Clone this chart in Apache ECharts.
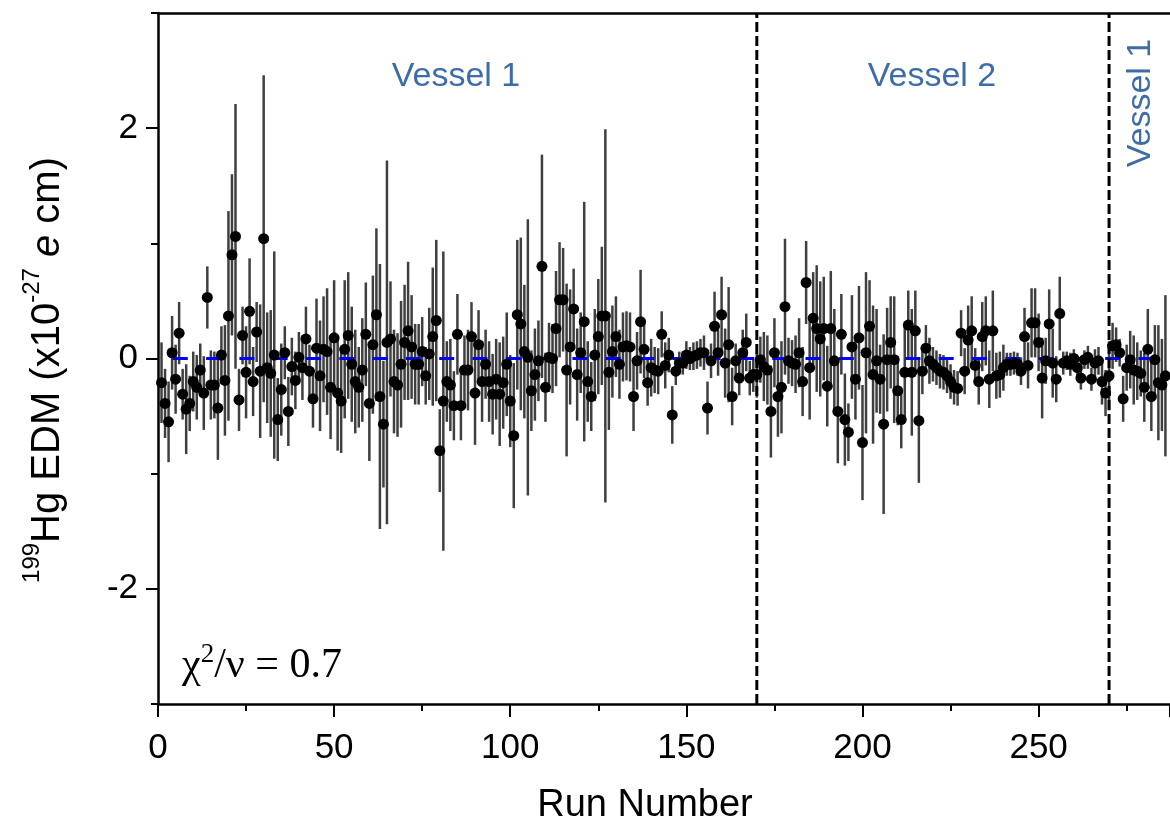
<!DOCTYPE html>
<html lang="en">
<head>
    <meta charset="utf-8">
    <title>199Hg EDM per run</title>
    <script src="https://cdn.jsdelivr.net/npm/echarts@6/dist/echarts.min.js"></script>
    <style type="text/css">
        html, body {
            width: 100%;
            height: 100%;
            margin: 0px;
            padding: 0px;
            background: #fff;
        }

        #main {
            width: 1170px;
            height: 826px;
        }
    </style>
</head>
<body>
<div id="main"></div>
<script>
    // EDM value per run (x10^-27 e cm), runs 1..286
    var edm = [
        // runs 1-47
        -0.21,-0.39,-0.55,0.05,-0.18,0.22,-0.31,-0.44,-0.39,-0.2,
        -0.25,-0.1,-0.3,0.53,-0.23,-0.23,-0.43,0.03,-0.19,0.37,
        0.9,1.06,-0.36,0.2,-0.12,0.41,-0.2,0.23,-0.11,1.04,
        -0.08,-0.13,0.03,-0.53,-0.27,0.05,-0.46,-0.07,-0.19,0.01,
        -0.08,0.17,-0.11,-0.35,0.09,-0.15,0.08,
        // runs 48-95
        0.06,-0.25,0.18,-0.3,-0.37,0.08,0.2,-0.05,-0.2,-0.25,
        -0.1,0.21,-0.39,0.12,0.38,-0.33,-0.57,0.14,0.17,-0.2,
        -0.23,-0.05,0.14,0.24,0.1,-0.05,-0.05,0.06,-0.15,0.04,
        0.19,0.33,-0.8,-0.37,-0.2,-0.23,-0.41,0.21,-0.41,-0.1,
        -0.1,0.19,-0.3,0.12,-0.2,-0.05,-0.2,-0.31,
        // runs 96-146
        -0.18,-0.31,-0.21,-0.05,-0.37,-0.67,0.38,0.3,0.06,0.01,
        -0.28,-0.14,-0.02,0.8,-0.25,0.01,0.0,0.26,0.51,0.51,
        -0.1,0.1,0.43,-0.14,0.05,0.32,-0.2,-0.33,0.03,0.19,
        0.37,0.37,-0.12,0.06,0.19,-0.05,0.1,0.11,0.1,-0.33,
        -0.02,0.32,0.08,-0.21,-0.08,-0.1,-0.11,0.21,-0.06,0.03,
        -0.49,
        // runs 147-193
        -0.11,-0.04,-0.04,0.03,0.0,0.02,0.03,0.05,0.05,-0.43,
        -0.02,0.28,0.05,0.38,-0.04,0.12,-0.33,-0.02,-0.17,0.05,
        0.14,-0.17,-0.14,-0.14,-0.01,-0.07,-0.1,-0.46,0.05,-0.33,
        -0.25,0.45,-0.02,-0.04,-0.05,0.05,-0.2,0.66,-0.08,0.35,
        0.26,0.17,0.26,-0.24,0.26,-0.02,-0.46,
        // runs 194-240
        0.21,-0.53,-0.64,0.1,-0.18,0.18,-0.73,0.05,0.28,-0.14,
        -0.02,-0.18,-0.57,-0.01,0.14,-0.01,-0.28,-0.53,-0.12,0.29,
        -0.12,0.24,-0.54,-0.11,0.09,-0.02,-0.05,-0.08,-0.11,-0.12,
        -0.15,-0.2,-0.25,-0.26,0.22,-0.11,0.16,0.24,-0.06,-0.2,
        0.19,0.24,-0.18,0.24,-0.15,-0.14,-0.08,
        // runs 241-286
        -0.05,-0.05,-0.04,-0.05,-0.11,0.19,-0.06,0.31,0.31,0.14,
        -0.17,-0.02,0.3,-0.04,-0.18,0.39,-0.04,-0.02,-0.05,0.0,
        -0.08,-0.17,-0.01,0.01,-0.18,-0.04,-0.02,-0.2,-0.3,-0.15,
        0.11,0.12,0.05,-0.35,-0.08,-0.01,-0.1,-0.11,-0.13,-0.25,
        0.08,-0.33,-0.01,-0.21,-0.23,-0.15
    ];

    // 1-sigma error per run
    var err = [
        0.35,0.3,0.35,0.32,0.3,0.27,0.22,0.39,0.24,0.26,
        0.28,0.23,0.32,0.27,0.3,0.29,0.45,0.25,0.48,0.91,
        0.7,1.15,0.27,0.25,0.4,0.46,0.3,0.26,0.58,1.42,
        0.48,0.55,0.9,0.36,0.4,0.23,0.3,0.25,0.25,0.22,
        0.28,0.28,0.23,0.25,0.43,0.48,0.46,
        0.55,0.45,0.5,0.5,0.45,0.6,0.55,0.5,0.45,0.35,
        0.45,0.45,0.5,0.6,0.75,1.15,0.55,1.58,0.5,0.45,
        0.45,0.55,0.5,0.6,0.45,0.35,0.35,0.3,0.25,0.4,
        0.6,0.7,0.36,1.3,0.35,0.4,0.3,0.35,0.3,0.3,
        0.35,0.3,0.45,0.3,0.35,0.3,0.35,0.35,
        0.35,0.45,0.4,0.45,0.4,0.63,0.65,0.75,0.58,1.2,
        0.35,0.4,0.35,0.97,0.3,0.3,0.3,0.5,0.5,0.45,
        0.75,0.5,0.35,0.4,0.35,1.04,0.35,0.3,0.4,0.5,
        0.6,1.62,0.5,0.4,0.35,0.3,0.3,0.3,0.3,0.3,
        0.25,0.45,0.25,0.2,0.25,0.2,0.2,0.2,0.2,0.15,
        0.25,
        0.12,0.1,0.1,0.12,0.1,0.12,0.12,0.12,0.15,0.23,
        0.15,0.3,0.2,0.33,0.3,0.5,0.25,0.15,0.15,0.2,
        0.25,0.15,0.15,0.2,0.2,0.3,0.3,0.4,0.3,0.35,
        0.4,0.59,0.2,0.2,0.25,0.3,0.3,0.36,0.45,0.4,
        0.55,0.5,0.45,0.35,0.5,0.45,0.45,
        0.35,0.4,0.25,0.45,0.35,0.45,0.5,0.7,0.4,0.6,
        0.45,0.3,0.78,0.45,0.4,0.55,0.3,0.25,0.4,0.3,
        0.55,0.35,0.54,0.2,0.2,0.2,0.15,0.15,0.15,0.15,
        0.15,0.15,0.15,0.15,0.2,0.2,0.3,0.3,0.15,0.2,
        0.3,0.3,0.25,0.35,0.2,0.2,0.2,
        0.1,0.1,0.1,0.1,0.12,0.25,0.2,0.3,0.3,0.25,
        0.35,0.2,0.3,0.3,0.2,0.32,0.1,0.08,0.1,0.08,
        0.1,0.1,0.08,0.1,0.1,0.12,0.12,0.2,0.2,0.3,
        0.2,0.15,0.12,0.2,0.2,0.25,0.3,0.25,0.2,0.3,
        0.35,0.3,0.3,0.5,0.4,0.7
    ];

    var vesselBounds = [170, 270];          // run numbers where the cell was swapped
    var vesselNames = ['Vessel 1', 'Vessel 2', 'Vessel 1'];
    var zeroLine = [0, 287.3];
    var xTicks = [0, 50, 100, 150, 200, 250];
    var yTicks = [-2, 0, 2];

    var points = edm.map(function (v, i) {
        return [i + 1, v, err[i]];
    });

    var black = '#000';
    var font = 'Liberation Sans, Arial, sans-serif';
    var serif = 'Liberation Serif, Times New Roman, serif';

    var myChart = echarts.init(document.getElementById('main'));

    var boundSeries = vesselBounds.map(function (b) {
        return {
            type: 'line',
            data: [[b, -3], [b, 3]],
            symbol: 'none',
            silent: true,
            z: 6,
            lineStyle: {color: black, width: 3, type: [10, 4]}
        };
    });

    myChart.setOption({
        animation: false,
        grid: {left: 158, top: 13, right: 0, bottom: 122},
        xAxis: [
            {
                type: 'value',
                min: 0,
                max: zeroLine[1],
                interval: 50,
                axisLine: {onZero: false, lineStyle: {color: black, width: 2.5}},
                axisTick: {inside: false, length: 13, lineStyle: {color: black, width: 2}},
                minorTick: {show: true, splitNumber: 2, length: 7, lineStyle: {color: black, width: 2}},
                splitLine: {show: false},
                axisLabel: {
                    color: black, fontSize: 35, fontFamily: font, margin: 27,
                    showMaxLabel: false,
                    formatter: function (v) { return xTicks.indexOf(v) >= 0 ? String(v) : ''; }
                }
            },
            {
                type: 'value',
                position: 'top',
                min: 0,
                max: zeroLine[1],
                axisLine: {show: true, onZero: false, lineStyle: {color: black, width: 2.5}},
                axisTick: {show: false},
                minorTick: {show: false},
                axisLabel: {show: false},
                splitLine: {show: false},
                minorSplitLine: {show: false}
            }
        ],
        yAxis: [
            {
                type: 'value',
                min: -3,
                max: 3,
                interval: 1,
                axisLine: {show: true, onZero: false, lineStyle: {color: black, width: 2.5}},
                axisTick: {show: true, length: 7, lineStyle: {color: black, width: 2}},
                splitLine: {show: false},
                axisLabel: {
                    color: black, fontSize: 35, fontFamily: font, margin: 20,
                    formatter: function (v) { return yTicks.indexOf(v) >= 0 ? String(v) : ''; }
                }
            },
            {
                type: 'value',
                min: -3,
                max: 3,
                interval: 1,
                position: 'left',
                axisLine: {show: false, onZero: false},
                axisTick: {show: true, length: 12, customValues: yTicks, lineStyle: {color: black, width: 2}},
                axisLabel: {show: false},
                splitLine: {show: false}
            }
        ],
        graphic: [
            {
                type: 'text', x: 645, y: 806,
                style: {text: 'Run Number', font: '38px ' + font, fill: black, align: 'center', verticalAlign: 'middle'}
            },
            {
                type: 'text', x: 44, y: 370, rotation: Math.PI / 2,
                style: {
                    text: '{s|199}{n|Hg EDM (x10}{s|-27}{i| e}{n| cm)}',
                    align: 'center', verticalAlign: 'middle', fill: black,
                    rich: {
                        n: {fontSize: 40, fontFamily: font, lineHeight: 48, verticalAlign: 'bottom'},
                        i: {fontSize: 40, fontFamily: font, fontStyle: 'italic', lineHeight: 48, verticalAlign: 'bottom'},
                        s: {fontSize: 24, fontFamily: font, lineHeight: 48, verticalAlign: 'top'}
                    }
                }
            },
            {
                type: 'text', x: 456, y: 77,
                style: {text: vesselNames[0], font: '34px ' + font, fill: '#3d6ca6', align: 'center', verticalAlign: 'middle'}
            },
            {
                type: 'text', x: 932, y: 77,
                style: {text: vesselNames[1], font: '34px ' + font, fill: '#3d6ca6', align: 'center', verticalAlign: 'middle'}
            },
            {
                type: 'text', x: 1141, y: 103, rotation: Math.PI / 2,
                style: {text: vesselNames[2], font: '34px ' + font, fill: '#3d6ca6', align: 'center', verticalAlign: 'middle'}
            },
            {
                type: 'text', x: 182, y: 664,
                style: {
                    text: '{t|χ}{s|2}{t|/ν = 0.7}',
                    align: 'left', verticalAlign: 'middle', fill: black,
                    rich: {
                        t: {fontSize: 42, fontFamily: serif, lineHeight: 46, verticalAlign: 'bottom'},
                        s: {fontSize: 27, fontFamily: serif, lineHeight: 40, verticalAlign: 'top'}
                    }
                }
            }
        ],
        series: [
            {
                type: 'custom',
                data: points,
                z: 2,
                silent: true,
                renderItem: function (params, api) {
                    var x = api.value(0), y = api.value(1), e = api.value(2);
                    var top = api.coord([x, y + e]);
                    var bot = api.coord([x, y - e]);
                    return {
                        type: 'line',
                        shape: {x1: top[0], y1: top[1], x2: bot[0], y2: bot[1]},
                        style: {stroke: '#3f3f3f', lineWidth: 2.5}
                    };
                }
            },
            {
                type: 'line',
                data: [[zeroLine[0], 0], [zeroLine[1], 0]],
                symbol: 'none',
                silent: true,
                z: 3,
                lineStyle: {color: '#0000ff', width: 3, type: [15, 18.3], dashOffset: 18.5}
            },
            {
                type: 'scatter',
                data: points,
                symbol: 'circle',
                symbolSize: 11,
                z: 4,
                itemStyle: {color: black, opacity: 1}
            }
        ].concat(boundSeries)
    });
</script>
</body>
</html>
